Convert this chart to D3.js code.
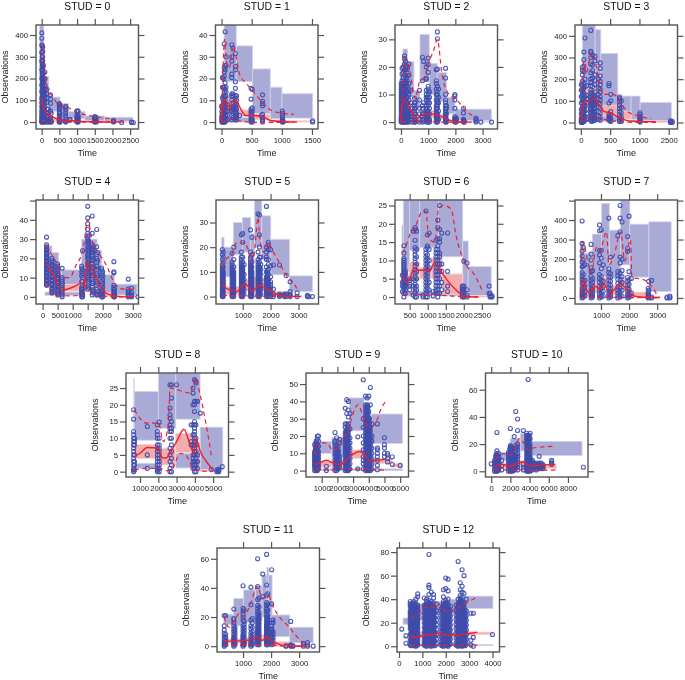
<!DOCTYPE html>
<html><head><meta charset="utf-8">
<script src="https://cdn.jsdelivr.net/npm/d3@7"></script>
<style>html,body{margin:0;background:#fff}svg{display:block;filter:blur(.4px)}text{font-family:"Liberation Sans",Arial,sans-serif}</style>
</head><body><div id="c"></div>
<script>
const titles=["STUD = 0","STUD = 1","STUD = 2","STUD = 3","STUD = 4","STUD = 5","STUD = 6","STUD = 7","STUD = 8","STUD = 9","STUD = 10","STUD = 11","STUD = 12"];
const xDomains=[[-160,2736],[-100,1600],[-220,3550],[-100,1650],[-220,3190],[42,3718],[94,2933],[77,3722],[233,5840],[0,6532],[-591,10087],[71,3726],[-86,4300]];
const yDomains=[[-32,446],[-3.2,44.6],[-2.5,35.2],[-30,450],[-3.7,50.3],[-3,39.1],[-1.9,26.5],[-31,503],[-1.6,29.5],[-3.7,56.4],[-4.2,72.3],[-4,67.4],[-4.9,83.5]];
const xTicks=[[0,500,1000,1500,2000,2500],[0,500,1000,1500],[0,1000,2000,3000],[0,500,1000,1500],[0,500,1000,1500,2000,2500,3000],[1000,2000,3000],[500,1000,1500,2000,2500],[1000,2000,3000],[1000,2000,3000,4000,5000],[1000,2000,3000,4000,5000,6000],[0,2000,4000,6000,8000],[1000,2000,3000],[0,1000,2000,3000,4000]];
const xLabels=[["0","500","1000","1500","2000","2500"],["0","500","1000","1500"],["0","1000","2000","3000"],["0","500","1000","2500"],["0","500","1000","","2000","","3000"],["1000","2000","3000"],["500","1000","1500","2000","2500"],["1000","2000","3000"],["1000","2000","3000","4000","5000"],["1000","2000","3000","4000","5000","6000"],["0","2000","4000","6000","8000"],["1000","2000","3000"],["0","1000","2000","3000","4000"]];
const yTicks=[[0,100,200,300,400],[0,10,20,30,40],[0,10,20,30],[0,100,200,300,400],[0,10,20,30,40,50],[0,10,20,30],[0,5,10,15,20,25],[0,100,200,300,400,500],[0,5,10,15,20,25],[0,10,20,30,40,50],[0,20,40,60],[0,20,40,60],[0,20,40,60,80]];
const yLabels=[["0","100","200","300","400"],["0","10","20","30","40"],["0","10","20","30"],["0","100","200","300","400"],["0","10","20","30","40",""],["0","10","20","30"],["0","5","10","15","20","25"],["0","100","200","300","400",""],["0","5","10","15","20","25"],["0","10","20","30","40","50"],["0","20","40","60"],["0","20","40","60"],["0","20","40","60","80"]];

const blueBands=[
[[-50,60,200,446],[60,200,85,210],[200,520,50,115],[520,760,25,85],[760,1220,15,48],[1220,1780,5,28],[1780,2580,2,22],[-50,2580,0,3]],
[[44,244,18.6,45],[244,515,18.6,35],[515,808,4,24.4],[808,1002,1.5,16],[1002,1512,1.8,13],[0,500,0,2]],
[[-30,73,3,17],[73,245,12,26.5],[245,477,9,22],[477,698,5,11.5],[698,1040,14.7,31.8],[1040,1334,10,21.3],[1334,1677,7.5,18],[1677,1983,3,9],[1983,3330,.6,4.7],[0,3330,0,.3]],
[[28,244,170,450],[244,341,130,428],[341,630,70,319],[630,857,30,122],[857,1011,10,122],[1011,1545,8,92],[20,630,5,30]],
[[78,311,6,26.5],[311,533,4,23],[533,633,3,14],[633,1299,6,14],[1299,1810,10,30],[1810,1965,6,24],[1965,2387,2,11.5],[2387,3141,1,6.6],[78,1299,.8,2.5]],
[[245,329,5,24],[329,665,8,20],[665,988,17,30],[988,1288,18,32],[1288,1419,14,25.5],[1419,1683,20,40],[1683,2006,15,32.7],[2006,2677,8.8,23.2],[2677,3504,2,8.4]],
[[288,325,4,19.6],[325,494,7,26.5],[494,780,12.7,26.5],[780,1300,13.5,26.5],[1300,1970,11,26.5],[1970,2120,1,15.3],[2120,2760,.4,8.3],[325,1970,.3,1.5]],
[[278,397,70,290],[397,692,50,230],[692,1024,80,328],[1024,1296,110,486],[1296,1698,100,348],[1698,2029,170,503],[2029,2704,107,379],[2704,3496,33,391]],
[[660,680,10,28],[680,2004,9.4,24],[2004,2954,13,29.5],[2954,4287,15.7,29.5],[4287,5528,.4,13.3],[2954,4000,1.1,5.4],[680,2004,1,2.5]],
[[468,1638,9.9,16.7],[1638,2766,8,19],[2766,3702,23,42],[3702,4192,15,32],[4192,6150,15.7,32.7],[468,6150,0,1]],
[[930,1980,8,14],[1980,3027,10,24],[3027,4245,15,28],[4245,9465,11.6,22]],
[[310,667,14.7,21.6],[667,1024,14,32.8],[1024,1440,16,38.6],[1440,1678,18,41.4],[1678,2035,20,48.8],[1850,1910,30,54],[2035,2666,6.5,21.4],[2666,3500,2.3,13]],
[[172,415,18.7,24],[415,1300,22,36],[1300,2000,28,38],[2000,2800,28,40],[2800,4018,32,42.6],[415,4018,.5,1.5]]
];
const redBands=[
[[-50,100,30,110],[100,260,15,45],[260,500,5,20],[500,800,3,12],[800,1500,1,5],[1500,2500,0,2]],
[[20,240,4,11.7],[240,500,2.6,5.6],[500,800,1,3.4],[800,1000,0,1],[1000,1500,0,.6]],
[[0,245,4,9.5],[245,477,2,5],[477,698,.8,3],[698,1040,2,4.5],[1040,1334,1.5,4.2],[1334,1677,1,3],[1677,1983,0,1],[1983,2500,0,.5]],
[[28,341,70,155],[341,630,30,80],[630,857,15,50],[857,1011,3,15],[1011,1545,0,8]],
[[78,311,12,18],[311,533,6,11],[533,633,2.5,5],[633,1299,3,6.5],[1299,1450,3,15],[1450,1810,8,18],[1810,1965,4,8],[1965,2387,.3,2],[2387,3141,0,.5]],
[[245,400,3,7],[400,900,1,4],[900,1300,2,7],[1300,1500,2,8],[1500,2000,2,7],[2000,2700,0,2],[2700,3100,0,.5]],
[[290,480,2,6],[480,780,4.5,9.5],[780,1100,5,8],[1100,1400,5,10.7],[1400,1970,.8,6.3],[1970,2120,0,1],[2120,2700,0,.4]],
[[278,397,40,110],[397,692,10,55],[692,1024,25,80],[1024,1296,50,105],[1296,1698,15,65],[1698,2029,40,100],[2029,2704,5,30],[2704,3100,0,8]],
[[680,2004,3.9,8.1],[2004,2950,2,7],[2950,4000,5.7,11.4],[4000,4287,1.4,8.7],[4287,5100,0,.6]],
[[468,1638,2,5.5],[1638,2200,3,7],[2200,2766,3,6],[2766,3702,7,12],[3702,4192,3,10],[4192,5500,4,7],[5500,6150,2,4]],
[[300,1000,2,6],[1000,2000,2,6],[2000,4245,3,8],[4245,6800,2,4]],
[[310,1024,2,5],[1024,1440,2,6],[1440,1678,3,8],[1678,2035,3,8],[2035,2666,0,3],[2666,3400,0,.4]],
[[172,415,6.5,8],[415,1300,7,12],[1300,2000,8,12],[2000,2800,8,12],[2800,3300,9,12.5],[3300,4018,10,12]]
];
const medianLines=[
[[0,110],[30,80],[100,50],[200,35],[300,25],[500,10],[800,8],[1000,4],[1500,1],[2000,0],[2300,0]],
[[0,0],[30,8],[60,10],[110,6],[170,7],[240,10],[300,7],[400,3],[550,3],[680,2.5],[800,.8],[1000,.2],[1250,0]],
[[0,0],[30,5],[120,8],[250,6.5],[400,3.5],[570,1],[700,2.3],[900,3],[1200,2.8],[1500,2],[1700,1],[2000,.2],[2400,0],[2600,0]],
[[0,5],[30,60],[60,100],[150,100],[230,110],[300,85],[400,50],[500,45],[600,30],[680,20],[800,8],[1000,5],[1280,4]],
[[130,17],[300,13],[500,6.5],[650,3.5],[1000,5],[1300,7],[1380,6],[1500,18],[1700,12],[1900,6],[2100,2],[2400,.5],[2800,0],[3000,0]],
[[280,5],[400,3.5],[600,2.5],[800,2],[950,4],[1080,5],[1200,4],[1350,2.3],[1450,3.2],[1600,4.5],[1800,3.5],[2000,2.3],[2200,1],[2500,.3],[3100,0]],
[[300,6],[400,4],[500,4.8],[620,8],[800,7.3],[950,7.5],[1050,7],[1180,9.2],[1400,6.5],[1550,4.5],[1800,1.8],[2000,.3],[2400,0]],
[[300,20],[370,95],[500,40],[620,25],[800,60],[950,45],[1130,70],[1300,18],[1450,40],[1700,72],[1900,45],[2100,15],[2400,5],[2800,3],[3100,2]],
[[680,4.5],[1000,5.5],[1400,7.2],[2000,7],[2150,4.5],[2400,4],[2700,6],[3000,9],[3400,12.7],[3800,7],[3950,5.5],[4050,10],[4300,6],[4900,1],[5000,0]],
[[600,3.5],[900,4.5],[1300,6],[1700,4.5],[2200,3.5],[2500,5.5],[2800,8],[3400,11],[3800,8.5],[4100,5.5],[4500,6],[5100,6.5]],
[[300,3],[700,4.5],[1200,5],[2000,3.5],[2500,5],[3300,7],[4000,4],[5000,4.5],[6700,5]],
[[320,3.5],[700,3.5],[1000,3.8],[1300,4.5],[1500,6.5],[1700,4],[1850,6.5],[2000,4],[2200,2],[2500,.2],[3000,0],[3300,0]],
[[500,8.5],[800,7.5],[1100,10],[1400,9.5],[1700,11],[2000,9],[2300,10],[2500,9],[2800,10.5],[3100,11],[3350,12]]
];
const upperLines=[
[[10,350],[50,300],[100,200],[200,140],[300,120],[500,75],[700,70],[1000,45],[1500,25],[2000,15]],
[[0,0],[20,20],[50,38],[80,28],[130,25],[190,35],[240,30],[300,22],[400,18],[500,15],[680,9],[850,5],[1200,3.5]],
[[30,5],[100,18],[160,23],[300,20],[420,13],[520,8.5],[680,14.5],[850,16],[1000,21],[1200,26],[1340,30],[1500,18],[1700,11],[2100,7.5],[2400,4],[2700,2]],
[[10,150],[50,280],[90,230],[180,320],[240,290],[300,200],[400,130],[560,130],[680,90],[800,50],[1000,30],[1200,15]],
[[130,27],[300,22],[500,16],[600,10],[900,10],[1100,16],[1350,25],[1500,40],[1650,29],[1900,22],[2100,17],[2400,7],[2700,4],[3000,4]],
[[280,12],[400,15],[600,17],[800,22],[1000,22],[1200,19],[1300,14],[1420,18],[1550,32],[1600,25],[1750,18],[1900,22],[2100,18],[2300,14],[2600,8],[2850,5],[3000,2]],
[[300,12],[400,14],[500,17],[650,19],[820,23],[950,23.5],[1030,16],[1200,15],[1300,24],[1450,25],[1650,24],[1780,17],[2050,9],[2300,6],[2500,2]],
[[300,200],[360,290],[500,210],[650,130],[850,260],[950,240],[1200,340],[1280,170],[1450,210],[1700,340],[1850,190],[2050,300],[2100,105],[2500,95],[2800,60],[3000,15]],
[[690,18.5],[1365,14.5],[2004,14.5],[2280,9],[2550,14],[2640,25],[3740,23.5],[4013,28],[4287,23],[4650,13],[4925,4]],
[[600,9],[800,16],[1300,16],[1700,12],[2000,13],[2300,18],[2700,23],[2900,30],[3300,38],[3700,30],[4000,25],[4400,27],[4800,36],[5150,41]],
[[400,9],[800,11],[1300,13],[2000,12],[2500,17],[2900,24],[3500,20],[4000,15],[4300,17],[5500,18],[6700,18.5]],
[[320,20],[500,13],[700,18],[850,22],[1000,20],[1250,28],[1500,41],[1700,33],[1900,35],[2050,28],[2300,20],[2600,14],[2900,7],[3150,2]],
[[500,24],[800,27],[1100,33],[1400,33],[1700,36],[1950,30],[2300,30],[2700,35],[3000,38],[3350,42]]
];
const lowerLines=[
[[0,5],[200,3],[500,1],[1000,0],[2000,0]],
[[0,0],[100,1],[200,1.5],[300,.5],[500,0],[700,-.2],[1200,-.2]],
[[20,0],[300,.5],[600,0],[1000,.2],[1500,0],[2400,0]],
[[10,5],[100,15],[200,30],[300,20],[500,10],[700,3],[1000,0],[1300,0]],
[[130,7],[300,3],[500,1],[900,.5],[1300,1],[1450,6],[1650,2],[1900,.5],[2400,0],[3000,0]],
[[280,.5],[1000,.3],[2000,.1],[3000,0]],
[[300,.5],[600,1],[900,.5],[1300,.5],[1800,.2],[2400,0]],
[[300,2],[600,5],[1000,5],[1500,3],[2000,2],[2500,1],[3000,0]],
[[690,.5],[1400,1],[2000,1],[2500,.3],[2700,.3],[3200,5.5],[3500,5],[3800,2],[4000,.5],[4900,0]],
[[600,.5],[1500,.3],[2500,1],[3500,1],[4500,.5],[5000,.3]],
[[400,1],[1500,1],[3000,1],[4000,.8],[5000,.8],[6700,1]],
[[320,.5],[1000,.5],[2000,.5],[2500,0],[3300,0]],
[[500,1],[1000,1],[2000,1],[3000,1],[3350,1]]
];
const observations=[
[[5,[0,3,8,15,25,35,50,70,90,110,140,170,200,240,280,320,355,385,410]],[15,[0,2,6,12,20,30,45,60,75,90,105,120,135,150,165,180,195,210,225,240,255,270,285,300,320,350]],[30,[0,4,10,18,28,40,55,70,85,100,115,130,145,160,175,190,205,220,235,250,265,280,300,325,345]],[50,[0,3,8,20,32,50,65,80,100,120,140,160,180,200,225,260]],[90,[0,5,15,25,45,70,90,110,130,150,170,200,230]],[150,[0,3,10,25,40,60,90,110,130,150]],[190,[0,2,8,25,45,60]],[250,[0,5,12,20,50,85,105,125]],[270,[0,3,40]],[500,[0,1,3,6,10,18,28,38,48,60,72,80,85]],[520,[0,5,14,25,40,65,78]],[680,[0,2,6,12,20,30,42,55,65,72]],[800,[8,12]],[1000,[0,2,5,8,12,18,25,32,48,52]],[1030,[0,3,10,16,22,30,50]],[1500,[0,2,5,10,15,20,25]],[1540,[0,3,8,22]],[2030,[0,3,8]],[2260,[-2]],[2540,[0,-2]],[2590,[-2]]],
[[5,[0,1,2,3,5,7,7.5]],[15,[0,1,2,4,7,11,16,20.5]],[30,[0,1.5,3,5,6,8,10,12,16,20]],[45,[0,1,2,4,6,9,11.5,14,16,21,23,25,36]],[60,[0,2,3,5,7,10,12,15,18,24,26,41.5]],[75,[1,3,5,8,12,14,16,26,30]],[100,[1,3,5,8]],[170,[1,3,5,6,7,10,12,13,20.5,22,28,30,35.5]],[190,[2,4,6,7,9,12,13,34]],[230,[1,2,3,4,5,6,7,8,9,11,12,15.5,18.5,24,25.5,31.5]],[250,[1,2,3,4,6,8,10,12]],[300,[3]],[490,[0,1,2,3,4,5,6,10.5,15.5]],[510,[0,.5,1,3,5,6.5,15]],[660,[3]],[680,[0,.5,1,2,3.5,7.5,8.5,9.5,12.5]],[1010,[0,.5,1,2,3,4,5]],[1020,[0,.5]],[1510,[0,.5]]],
[[10,[0,.3,.6,1,1.5,2,3,4,5,6,7,8,9,10,11,12,13,14]],[40,[0,.5,1,2,3,4,5,6,7,8,9,10,11,12,14,15,17.5,19.5]],[80,[0,1,2,3,4,5,6,7,8,9,10,12,13,14,16,18,20]],[130,[0,1,2,3,5,6,7,8,9,10,11,12,14,15,17,19,21,23,24]],[170,[0,1,2,3,4,6,8,10,12,13,15,17,19,20,22]],[230,[0,1,2,3,4,5,7,9,11,13,15,17,19,20]],[290,[0,1,2,3,4,6,8,10,12,14,17,21]],[350,[1,3,7,11.5]],[420,[0,2,5]],[500,[0,.5,1,2,3,4,5,6,7,8.5]],[520,[0,1,3,5,7]],[680,[0,1,3,5,8,11.5]],[790,[0,1,2,3,5,6,15,23.5]],[830,[.5,3,7,22]],[930,[0,1,2,3,4,5,6,8,9,10,11.5,15.5,16,20]],[1000,[0,.5,1,2,3,4,6,7,8,9,10,11,12,13,18,20.9,23.2]],[1050,[0,1,3,5,7,9,11]],[1300,[0,1,2,3,4,5,6,8,10,12,14,15,19]],[1340,[0,1,2,3,5,6,7,8,10,13,19.2,30.2,32.7]],[1380,[1,4,7,9,12]],[1640,[0,.3,1,2,3,4,5,6,7,8,10,16,19.5]],[1670,[0,1,3,5,6]],[1980,[0,.5,1,1.5,2,5,8,9.5,10]],[2030,[0,.5,1,1.5]],[2300,[0,.3,.6,1,3.3,5]],[2330,[0,.3]],[2760,[0,.5,1,1.5]],[2940,[0]],[3330,[0]],[25,[.5,1.5,2.5,3.5,4.5,5.5,6.5,7.5,8.5,9.5,10.5,11.5]],[60,[.5,1.5,2.5,3.5,4.5,5.5,6.5,7.5,8.5,9.5,10.5,11.5,13]],[110,[.5,1.5,2.5,3.5,4.5,5.5,6.5,7.5,8.5,9.5,10.5,11.5,13]],[150,[.5,1.5,2.5,3.5,5,7,9,11,14]],[200,[.5,1.5,2.5,3.5,5,7,9,11,14,16]],[260,[.5,1.5,2.5,3.5,5,7,9,11]],[960,[.5,1.5,2.5,3.5,5,7,9]],[1320,[.5,1.5,2.5,3.5,5,7,9,11]],[1650,[.5,1.5,2.5,3.5,5]]],
[[8,[0,3,8,14,20,40,60,90,120,150,175]],[25,[0,5,10,20,35,50,70,100,125,145,170,190,220,240,255]],[50,[5,15,25,40,60,80,105,135,160,180,235,260,290,325]],[70,[10,30,55,75,95,120,165,200,390]],[100,[15,40,60,90,110,125,170]],[170,[10,20,30,45,60,70,80,95,105,120,135,150,170,185,200,230,270,300,322,328,425]],[200,[15,25,40,55,75,90,110,130,165,205,240,265,310]],[240,[10,20,35,50,65,85,100,115,140,175,195,220,285,305]],[300,[15,30,50,70,90,110,130,160,200]],[330,[10,25,45,65,85,105,120,140,155,175,190,215,250,275]],[480,[10,15,20,30,40,90,170,180]],[510,[5,10,20,35,50,100,130]],[660,[5,10,20,35,50,65,80,95,110,118]],[690,[5,15,25,45,70,100]],[1010,[2,5,10,15,20,25,30,38,45]],[1530,[0,3,8]],[1560,[0,5]],[35,[2,12,22,32,45,58,72,88,110,130,155]],[185,[5,18,32,48,62,78,92,112,140]],[220,[8,22,38,52,68,82,95,108,125]]],
[[130,[6,7,8,9,10,11,12,13,14,15,16,17,18,19,20,21,22,23,24,25,26,27,31]],[140,[6.5,8.5,10.5,12.5,14.5,16.5,18.5,20.5,22.5,24.5]],[310,[2,3,4,5,6,7,8,9,10,11,12,13,14,15,16,17,18,19,20]],[325,[2.5,4.5,6.5,8.5,10.5,12.5,14.5,16.5]],[500,[1,2,3,4,5,6,7,8,9,10,11,12,13,14,15,16,17]],[515,[1.5,3.5,5.5,7.5,9.5,11.5]],[650,[0,1,2,3,4,5,6,7,8,9,10,14.8]],[1300,[0,1,2,3,4,5,8,11,13,15,16]],[1330,[0,1,2,4,6,8,10,12,14,24]],[1500,[4,6,8,10,12,14,16,18,20,22,24,26,28,30,31,33,35,38,41,47]],[1530,[5,7,9,11,13,15,17,19,21,23,25,27,29,32]],[1650,[1,3,5,7,9,11,13,15,17,19,21,23,25,27,33,42]],[1680,[2,4,8,12,16,20,24,26]],[1800,[1,2,4,6,8,10,12,14,16,18,20,22,26,35]],[1830,[1,3,7,11,15,19,23]],[1965,[0,1,2,3,4,6,8,10,12,14,15]],[2000,[0,1,3,5,7,9,11,13]],[2370,[0,.5,1,2,3,4,5,6,12.5,13,18.3]],[2390,[0,1,2,4]],[2850,[0,.5,1,2,3,4,9.2]],[2960,[0,.5,1,2,4.5]],[3170,[0]],[1515,[5,9,13,17,21,25,29]],[1665,[3,7,11,15,19,23,25]]],
[[270,[0,.5,1,2,3,4,5,6,7,8,9,10,11,12,13,15,17,19]],[300,[0,1,2,3,4,5,6,7,8,9,10,12,14,16,18]],[620,[0,.5,1,2,3,4,5,6,7,8,9,10,11,12,13,14,17.5]],[680,[0,1,2,3,4,5,6,7,8,9,10,12,15,20]],[950,[0,.5,1,2,3,4,5,6,7,8,9,10,11,12,13,14,15,16,18,25]],[1000,[0,1,2,3,4,5,6,7,8,9,10,11,12,14,16,22,25.5]],[1050,[1,3,5,7,9,13]],[1280,[0,.5,1,2,3,4,5,6,7,8,9,10,11,12,13,14,15,16,18,27]],[1330,[0,1,2,3,4,5,6,7,8,9,10,12,14,17,24]],[1550,[0,.5,1,2,3,4,5,6,7,8,9,10,11,12,13,14,15,18,33.5]],[1600,[0,1,2,3,4,5,6,7,8,9,10,11,12,14,16,20,25,33]],[1650,[1,3,5,7,9,11,13,16]],[1850,[0,.5,1,2,3,4,5,6,7,8,10,12,15,16,18,20,36.5]],[1920,[0,1,2,3,4,5,6,7,9,11,13,15,19,21,22]],[2000,[0,1,2,3,4,5,6,8,12.5,19]],[2100,[0,1,3,12.8]],[2320,[0,.5,1,12.8]],[2500,[0,.5,1]],[2560,[0,1,8.5]],[2700,[0,.5,1,2,6]],[2950,[0,1.5]],[3320,[0,.5]],[3370,[0]],[3500,[0]],[285,[.5,1.5,2.5,3.5,4.5,5.5,6.5,7.5,8.5,9.5,10.5]],[650,[.5,1.5,2.5,3.5,4.5,5.5,6.5,7.5,8.5,9.5,10.5]],[975,[.5,1.5,2.5,3.5,4.5,5.5,6.5,7.5,8.5,9.5,10.5,11.5,12.5]],[1305,[.5,1.5,2.5,3.5,4.5,5.5,6.5,7.5,8.5,9.5,10.5,11.5,12.5]],[1575,[.5,1.5,2.5,3.5,4.5,5.5,6.5,7.5,8.5,9.5,10.5,11.5,12.5]],[1885,[.5,1.5,2.5,3.5,4.5,5.5,6.5,7.5,8.5,9.5,10.5]]],
[[300,[1.5,3,4,6]],[340,[0,1,2,2.5,3,3.5,4,4.5,5,5.5,6,6.5,7,7.5,8,8.5,9,9.5,10,10.5,12,14]],[380,[1,2,3,3.5,4,4.5,5,6,6.5,7]],[500,[2,3,3.5,4.5,5]],[600,[.5,3,5,18]],[650,[0,1,1.5,2.5,3.5,4.5,5.5,6.5,7.5,8.5,9.5,10.5,11.5,12.5,13.5,15.5,18.5,19]],[690,[0,2,3,5,7,9,11,13,18]],[870,[0,.5]],[950,[0,1,2,3,4,5,6,7,8,9,10,11,12,13,23.5]],[990,[0,1.5,2.5,3.5,4.5,5.5,6.5,7.5,8.5,9.5,10.5,11.5,13.5,14,17]],[1040,[2,4,8,10,13,17.5]],[1150,[.3,1.5]],[1230,[1.5,2,3,4,5,6,7,8,9,10,11,12,13,15.5]],[1280,[0,1,2,3,4,5,6,7,8,9,10,11,12,13,14,15.8,19,21]],[1330,[1,3,5,7,9,11,12,15,16,18.5,25]],[1390,[2,4,7,9,17.5]],[1550,[1.5,3,7,17.5]],[1960,[0,.5,1,1.5,2,2.5,3]],[2000,[0,.5,1,2,3,9.8]],[2090,[0,.5,2,9.3]],[2700,[1,3]],[2730,[0,.3,1]],[2780,[0,.3]]],
[[330,[0,10,20,30,40,55,75,95,110,130,160,185,215,240,280,395]],[370,[5,15,25,50,70,90,120,165,195,260]],[430,[10,30,60,90,170]],[650,[0,10,20,35,50,70,90,110,135,155,195,225,275]],[700,[5,15,30,45,60,80,100,140]],[950,[0,10,25,40,60,80,100,120,180,220,245,345,375]],[1010,[5,15,30,50,70,90,110,150,205,245,350]],[1080,[10,35,60,85,170]],[1280,[0,10,20,35,50,70,90,110,130,150,410]],[1340,[5,15,30,45,65,85,105,125,210]],[1600,[0,10,25,40,55,75,95,115,135,320]],[1680,[5,15,30,50,70,90,110,130,180,210,340,410,475]],[1750,[10,40,80,110,140,200,390]],[1950,[0,10,20,35,50,65,85,105,240,255,315]],[2000,[5,15,30,45,70,95,135,420]],[2080,[10,25,100]],[2680,[0,5,10,20,30,50]],[2700,[5,15,40,85]],[2800,[0,5,90]],[3350,[0,5]],[3450,[0,5,10]]],
[[650,[0,.5,1,2,3,4,5,6,7,8,9,10,11,12,15.7,18.5]],[700,[.5,2,3,5,8,9,10]],[1400,[1,5,13.5]],[1950,[0,.5,1,2,3,4,5,6,7,8,10,11,12,14]],[2050,[0,1,2,3,4,5,6,7,8,10,14.8]],[2640,[0,1,3,5,7,10,12,13,14,16,17,19,26]],[2720,[0,2,4,6,8,10,12,13,15,26,22]],[3000,[26]],[3800,[8,9,14]],[3900,[1,2,3,4,5,8,11,14,20,23.5,25]],[3980,[0,1,2,3,5,6,7,8,9,10,11,12,13,14,15,18,20,21,27.5]],[4060,[0,1,2,3,4,5,6,8,10,14,21,27,26.5]],[4150,[1,3,5,21]],[4300,[17.5]],[4900,[.7]],[5200,[0,.5]],[5300,[0,.7,.3]],[5500,[1.5]]],
[[550,[0,2,3,4,5,6,7,8,9,10,11,15]],[650,[0,1,2,3,4,5,6,7,8,9,10,11,12,13,14,15,16,17]],[720,[0,1,2,3,4,5,6,7,8,9,10,11,13,15,18,20]],[800,[1,3,5,7,9,11,14,17,20]],[1300,[0,2.5]],[1850,[0,2,4,6,8,10,12,14,16,17,22]],[1950,[0,1,2,3,4,5,6,7,8,9,10,11,12,13,15,19]],[2050,[1,2,3,4,5,6,7,8,9,10,11,12,14]],[2150,[2,4,6,8,16,18]],[2500,[0,2,4,6,8,10,12,14,16,18,20,22,25,27,36]],[2600,[0,1,2,3,4,5,6,7,8,9,10,11,12,13,14,15,16,17,18,19,20,21,22,23,24,27,33,41]],[2700,[0,1,3,5,7,9,11,13,15,17,19,21,23,25,27,31,35,40]],[2800,[1,4,7,10,13,16,19,24,33]],[3300,[1,19.5]],[3650,[1,4,6,8,12,16,20,25,30,52.5]],[3800,[0,2,4,6,8,10,12,14,16,18,20,22,24,26,28,30,32,34,36,38,43]],[3900,[0,1,3,5,7,9,11,13,15,17,19,21,23,25,27,29,31,33,35,37,38,42]],[4000,[0,1,2,3,4,5,6,7,8,9,10,11,12,13,14,15,16,17,18,19,20,22,24,26,28,30,34,43]],[4100,[0,1,3,5,7,9,11,13,15,17,19,21,23,25,38,48]],[4200,[1,4,7,10,13,17,20,27]],[4550,[.5,3,6,8,10,12,13,27]],[5000,[8,10,13,15,19]],[5200,[5,7,9,10]],[5500,[3.5,8]],[6000,[3]],[600,[1,3,5,7,9,11,13]],[690,[.5,1.5,2.5,3.5,4.5,5.5,6.5,7.5,8.5,9.5,10.5,11.5]],[2000,[1.5,2.5,3.5,4.5,5.5,6.5,7.5,8.5]],[2550,[1,3,5,7,9,11,13,15,17,19,21,23]],[2650,[.5,1.5,2.5,3.5,4.5,5.5,6.5,7.5,8.5,9.5,10.5,11.5,12.5,13.5,14.5,15.5,16.5,17.5,18.5,19.5,21,23,26]],[3850,[1,3,5,7,9,11,13,15,17,19,21,23,25,27,29,31,33,35,37]],[3950,[.5,2.5,4.5,6.5,8.5,10.5,12.5,14.5,16.5,18.5,20.5,22.5,24.5,26.5,28.5,30.5,32.5,35,37]],[4050,[1.5,3.5,5.5,7.5,9.5,11.5,13.5,15.5,17.5,19.5,21.5,23.5,25.5,27.5,30]]],
[[0,[5.5]],[350,[0,2,4,6,8]],[500,[0,1,2,3,4,5,6,7,8,9,10,11,12]],[600,[0,1,2,3,4,5,6,7,8,9,10,11,12,13,15,28.5]],[800,[1,3,5,7,9,11,13]],[1100,[1,4,8]],[1800,[0,2,4,6,8,10,12,14]],[2000,[0,1,2,3,4,5,6,7,8,9,10,11,12,13,14,15,16,17,18,19,31.5]],[2200,[0,1,2,3,4,5,6,7,8,9,10,11,12,13,15,17]],[2400,[1,2,3,4,5,6,7,8,9,10,11,25.5]],[2560,[2,4,6,8,10,12,15,17,19,44]],[2750,[1,3,5,7,9,11,13,16,18,20,30,38.5]],[3350,[1,3,5,30]],[3700,[0,2,4,6,8,10,12,14,16,18,20,22,24,26,28]],[3850,[0,1,2,3,4,5,6,7,8,9,10,11,12,13,14,15,16,17,18,19,20,21,22,23,24,25,26,67.5]],[4050,[0,1,2,3,4,5,6,7,8,9,10,12,14,16,18,20,24,28]],[4300,[1,3,4,5,6,7,8]],[4700,[1,3,4,5,6]],[5000,[2,3,4,5,6,11]],[5400,[2,3,4,5]],[6300,[5,6,7,8]],[9600,[3]],[700,[.5,2.5,4.5,6.5,8.5,10.5]],[1950,[.5,2.5,4.5,6.5,8.5,10.5,12.5,14.5,16.5]],[2100,[.5,2.5,4.5,6.5,8.5,10.5,12.5,14.5,16.5,18]],[2300,[.5,2.5,4.5,6.5,8.5,10.5,12.5]],[3780,[.5,2.5,4.5,6.5,8.5,10.5,12.5,14.5,16.5,18.5,20.5,22.5,24.5,26.5]],[3950,[.5,2.5,4.5,6.5,8.5,10.5,12.5,14.5,16.5,18.5,20.5,22.5,24.5,26.5]],[4500,[2,3,4,5,6]],[4850,[2,3,4,5]],[5200,[2,3,4,5,6]]],
[[330,[0,1,2,3,5,7,9,11,14,21]],[380,[1,2,4,6,8,21]],[670,[0,1,2,3,4,5,6,8,10,12,14,16,18,19,25.5]],[710,[1,2,3,5,7,9,11,13]],[1000,[0,1,2,3,4,5,6,7,8,10,12,14,18,20,22,24,26,41.5]],[1040,[1,2,3,5,7,9,11,13,15,17,25]],[1280,[0,1,2,3,5,7,9,12,14,18,28.5,40.5]],[1330,[1,2,4,6,8,10,13,16,19]],[1520,[1,2,3,4,5,6,7,8,9,10,11,12,14,16,18,20,22,24,26,28,32,41,60]],[1570,[1,3,5,7,9,11,13,15,17,19,21,23,27,33]],[1700,[34,49.5]],[1840,[1,2,3,4,5,6,7,8,9,10,11,12,13,14,15,16,18,20,22,24,26,28,30,35,42,63]],[1880,[1,3,5,7,9,11,13,15,17,19,21,25,29,36]],[2020,[1,2,3,4,5,6,7,8,9,10,11,12,14,16,18,29,52.5]],[2070,[2,4,6,8,10,16,18]],[2530,[0,.3]],[2700,[0,.5,1,17]],[2780,[0,.3]],[3150,[0,1,2]],[3300,[0,1,2.5]],[3500,[0]],[1545,[2,4,6,8,10,12,14,16,18,20]],[1860,[2,4,6,8,10,12,14,16,18,20,24]]],
[[120,[14.5]],[300,[2.5,9]],[480,[1,5,10,15,18,20,22,24,26,28,30,34,36,38]],[560,[2,4,6,8,12,14,16,18,20,22,24,26,28,30,32,35,37]],[640,[1,3,5,7,9,11,13,15,17,19,21,23,25,27,29,31,33,36,38]],[720,[0,2,4,6,8,10,12,14,16,18,20,22,24,26,28,30,32,34,36,40]],[800,[1,3,5,7,9,11,13,15,17,19,21,23,25,27,29,31,33,35,42,44.5]],[1080,[1,3,5,8,12,16,20,24,28,32,35,41]],[1180,[0,2,4,6,8,10,12,14,16,18,20,22,24,26,28,30,32,34,36,38,40]],[1280,[1,3,5,7,9,11,13,15,17,19,21,23,25,27,29,31,33,35,37,39,44,50,52,78]],[1380,[0,2,4,6,8,10,12,14,16,18,20,22,24,26,28,30,32,34,36,38,46]],[1480,[1,3,5,7,9,11,13,15,17,19,21,23,25,27,29,31,33,37,41,44]],[1600,[2,6,10,14,18,22,26,30,36]],[1800,[1,4,8,12,16,20,24,28,32]],[1900,[0,2,4,6,8,10,12,14,16,18,20,22,24,26,28,30,32,34,36,38,42,48]],[2000,[1,3,5,7,9,11,13,15,17,19,21,23,25,27,29,31,33,35,37,39,49,58]],[2100,[0,2,4,6,8,10,12,14,16,18,20,22,24,26,28,30,32,34,36,40,47,57]],[2200,[2,6,10,14,18,22,26,30,34]],[2440,[1,3,7,11,15,19,23,27,31,35]],[2530,[0,2,4,6,8,10,12,14,16,18,20,22,24,26,28,30,32,34,36,40,72]],[2620,[1,3,5,7,9,11,13,15,17,19,21,23,25,27,29,31,33,35,37,39,41,43,48,54]],[2700,[0,2,4,6,8,10,12,14,16,18,20,22,24,26,28,30,32,34,36,38,42,46,51,65]],[2780,[1,3,5,7,9,11,13,15,17,19,21,23,25,27,29,31,33,35,37,45,60]],[2880,[2,6,10,14,18,22,26,30,40]],[3080,[1,5,28]],[3180,[0,7.5,28]],[4000,[10]],
[520,[.5,2.5,4.5,6.5,8.5,10.5,12.5,14.5,16.5,18.5,20.5,22.5,24.5,26.5,28.5,30.5,32.5]],[600,[1.5,3.5,5.5,7.5,9.5,11.5,13.5,15.5,17.5,19.5,21.5,23.5,25.5,27.5,29.5,31.5,33.5]],[680,[.5,2.5,4.5,6.5,8.5,10.5,12.5,14.5,16.5,18.5,20.5,22.5,24.5,26.5,28.5,30.5,32.5,34.5]],[760,[1.5,3.5,5.5,7.5,9.5,11.5,13.5,15.5,17.5,19.5,21.5,23.5,25.5,27.5,29.5,31.5,33.5]],[1130,[.5,2.5,4.5,6.5,8.5,10.5,12.5,14.5,16.5,18.5,20.5,22.5,24.5,26.5,28.5,30.5,32.5,34.5]],[1230,[1.5,3.5,5.5,7.5,9.5,11.5,13.5,15.5,17.5,19.5,21.5,23.5,25.5,27.5,29.5,31.5,33.5,35.5]],[1330,[.5,2.5,4.5,6.5,8.5,10.5,12.5,14.5,16.5,18.5,20.5,22.5,24.5,26.5,28.5,30.5,32.5,34.5,36.5]],[1430,[1.5,3.5,5.5,7.5,9.5,11.5,13.5,15.5,17.5,19.5,21.5,23.5,25.5,27.5,29.5,31.5,33.5]],[1530,[.5,4.5,8.5,12.5,16.5,20.5,24.5,28.5,32.5]],[1850,[.5,4.5,8.5,12.5,16.5,20.5,24.5,28.5,32.5]],[1950,[1.5,3.5,5.5,7.5,9.5,11.5,13.5,15.5,17.5,19.5,21.5,23.5,25.5,27.5,29.5,31.5,33.5,35.5]],[2050,[.5,2.5,4.5,6.5,8.5,10.5,12.5,14.5,16.5,18.5,20.5,22.5,24.5,26.5,28.5,30.5,32.5,34.5,36.5]],[2150,[1.5,3.5,5.5,7.5,9.5,11.5,13.5,15.5,17.5,19.5,21.5,23.5,25.5,27.5,29.5,31.5]],[2490,[.5,4.5,8.5,12.5,16.5,20.5,24.5,28.5,32.5]],[2580,[1.5,3.5,5.5,7.5,9.5,11.5,13.5,15.5,17.5,19.5,21.5,23.5,25.5,27.5,29.5,31.5,33.5,35.5,37.5]],[2660,[.5,2.5,4.5,6.5,8.5,10.5,12.5,14.5,16.5,18.5,20.5,22.5,24.5,26.5,28.5,30.5,32.5,34.5,36.5,38.5]],[2740,[1.5,3.5,5.5,7.5,9.5,11.5,13.5,15.5,17.5,19.5,21.5,23.5,25.5,27.5,29.5,31.5,33.5,35.5,37.5]],[2830,[.5,2.5,4.5,6.5,8.5,10.5,12.5,14.5,16.5,18.5,20.5,22.5,24.5,26.5,28.5,30.5]]]
];

const W=685,H=680,pw=102.5,ph=104;
const panelLeft=[36,215.5,395,575,36,216,395,575,126,306,485.5,217,397];
const panelTop=[25,25,25,25,200,200,200,200,373,373,373,548,548];
const svg=d3.select("#c").append("svg").attr("width",W).attr("height",H);
const axisCol="#555";
const curve=d3.curveMonotoneX;

titles.forEach((title,i)=>{
  const g=svg.append("g").attr("transform",`translate(${panelLeft[i]},${panelTop[i]})`);
  const x=d3.scaleLinear().domain(xDomains[i]).range([0,pw]);
  const y=d3.scaleLinear().domain(yDomains[i]).range([ph,0]);
  const cid="clip"+i;
  svg.append("clipPath").attr("id",cid).append("rect").attr("width",pw).attr("height",ph);
  const plot=g.append("g").attr("clip-path",`url(#${cid})`);
  const drawBands=(data,fill,halo)=>plot.append("g").selectAll("rect").data(data).join("rect")
    .attr("x",d=>x(d[0])).attr("width",d=>x(d[1])-x(d[0]))
    .attr("y",d=>y(d[3])).attr("height",d=>Math.abs(y(d[2])-y(d[3])))
    .attr("fill",fill).attr("stroke",halo).attr("stroke-width",.8);
  drawBands(blueBands[i],"#aaaad6","#d4d4ec");
  drawBands(redBands[i],"#f4acac","#f9d4d4");
  const pts=observations[i].flatMap(([t,vs])=>vs.map(v=>[t,v]));
  plot.append("g").selectAll("circle").data(pts).join("circle")
    .attr("cx",d=>x(d[0])).attr("cy",d=>y(d[1])).attr("r",2)
    .attr("fill","none").attr("stroke","#3f4cac").attr("stroke-width",1.15).attr("stroke-opacity",.9);
  const line=d3.line().x(d=>x(d[0])).y(d=>y(d[1])).curve(curve);
  const col="#ee2030";
  plot.append("path").attr("d",line(upperLines[i])).attr("fill","none").attr("stroke",col).attr("stroke-width",1.2).attr("stroke-dasharray","4.5,3.5");
  plot.append("path").attr("d",line(lowerLines[i])).attr("fill","none").attr("stroke",col).attr("stroke-width",1.2).attr("stroke-dasharray","4.5,3.5");
  plot.append("path").attr("d",line(medianLines[i])).attr("fill","none").attr("stroke",col).attr("stroke-width",1.4);

  const style=a=>{a.select(".domain").remove();a.selectAll("line").attr("stroke",axisCol).attr("stroke-width",1.2);a.selectAll("text").attr("fill","#222").style("font-size","7.7px").style("font-family",'"Liberation Sans",Arial,sans-serif');};
  const bottom=g.append("g").attr("transform",`translate(0,${ph})`).call(d3.axisBottom(x).tickValues(xTicks[i]).tickSize(6).tickPadding(2.5).tickFormat((d,k)=>xLabels[i][k]));style(bottom);
  const top=g.append("g").call(d3.axisTop(x).tickValues(xTicks[i]).tickSize(6).tickFormat(""));style(top);
  const left=g.append("g").call(d3.axisLeft(y).tickValues(yTicks[i]).tickSize(6).tickPadding(2).tickFormat((d,k)=>yLabels[i][k]));style(left);
  const right=g.append("g").attr("transform",`translate(${pw},0)`).call(d3.axisRight(y).tickValues(yTicks[i]).tickSize(6).tickFormat(""));style(right);
  g.append("rect").attr("width",pw).attr("height",ph).attr("fill","none").attr("stroke",axisCol).attr("stroke-width",1.4);

  g.append("text").attr("x",pw/2).attr("y",-15).attr("text-anchor","middle").attr("font-size",10.4).attr("fill","#111").text(title);
  g.append("text").attr("x",pw/2).attr("y",ph+27).attr("text-anchor","middle").attr("font-size",9).attr("fill","#222").text("Time");
  g.append("text").attr("transform",`translate(-28,${ph/2}) rotate(-90)`).attr("text-anchor","middle").attr("font-size",9).attr("fill","#222").text("Observations");
});
</script></body></html>
